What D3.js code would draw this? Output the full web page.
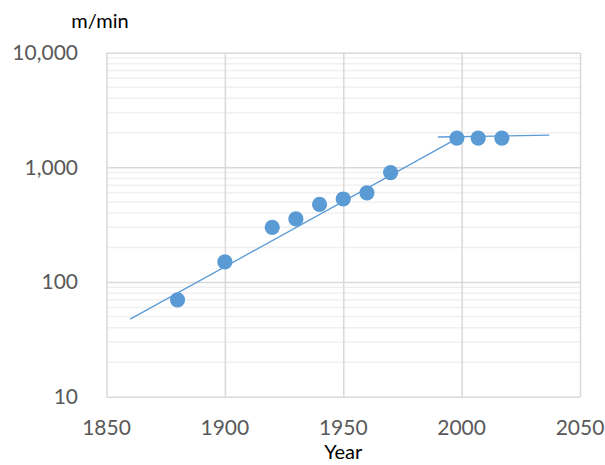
<!DOCTYPE html>
<html>
<head>
<meta charset="utf-8">
<script src="https://cdn.jsdelivr.net/npm/d3@7"></script>
<style>
  html, body { margin: 0; padding: 0; background: #fff; }
  svg text { font-family: Lato, "Open Sans", sans-serif; }
</style>
</head>
<body>
<div id="chart"></div>
<script>
const years = [1880, 1900, 1920, 1930, 1940, 1950, 1960, 1970, 1998, 2007, 2017];
const speeds = [70, 150, 300, 355, 475, 530, 600, 900, 1800, 1800, 1800];

const trendYears = [1860, 1998];
const trendSpeeds = [47.5, 1780];
const plateauYears = [1990, 2037];
const plateauSpeeds = [1840, 1910];

const xTicks = [1850, 1900, 1950, 2000, 2050];
const yTicks = [10, 100, 1000, 10000];

const width = 605;
const height = 465;
const plotLeft = 106.5;
const plotRight = 580;
const plotTop = 52.7;
const plotBottom = 396.7;

const x = d3.scaleLinear().domain([1850, 2050]).range([plotLeft, plotRight]);
const y = d3.scaleLog().domain([10, 10000]).range([plotBottom, plotTop]);

const svg = d3
  .select("#chart")
  .append("svg")
  .attr("width", width)
  .attr("height", height);

// minor grid lines (2..9 of each decade)
const minor = [];
yTicks.slice(0, -1).forEach((d) => {
  for (let k = 2; k < 10; k++) minor.push(d * k);
});

svg
  .append("g")
  .selectAll("line")
  .data(minor)
  .enter()
  .append("line")
  .attr("x1", plotLeft)
  .attr("x2", plotRight)
  .attr("y1", (d) => y(d))
  .attr("y2", (d) => y(d))
  .attr("stroke", "#f0f0f0")
  .attr("stroke-width", 1.5);

// major grid lines
svg
  .append("g")
  .attr("transform", `translate(${plotLeft},0)`)
  .call(d3.axisLeft(y).tickValues(yTicks).tickSize(-(plotRight - plotLeft)).tickFormat(""))
  .call((g) => g.select(".domain").remove())
  .call((g) => g.selectAll("line").attr("stroke", "#d9d9d9").attr("stroke-width", 1.5));

svg
  .append("g")
  .attr("transform", `translate(0,${plotBottom})`)
  .call(d3.axisBottom(x).tickValues(xTicks).tickSize(-(plotBottom - plotTop)).tickFormat(""))
  .call((g) => g.select(".domain").remove())
  .call((g) => g.selectAll("line").attr("stroke", "#d9d9d9").attr("stroke-width", 1.5));

// tick labels
svg
  .append("g")
  .selectAll("text")
  .data(yTicks)
  .enter()
  .append("text")
  .attr("x", 78)
  .attr("y", (d) => y(d))
  .attr("dy", "0.35em")
  .attr("text-anchor", "end")
  .attr("fill", "#595959")
  .style("font-size", "21px")
  .text((d) => d3.format(",")(d));

svg
  .append("g")
  .selectAll("text")
  .data(xTicks)
  .enter()
  .append("text")
  .attr("x", (d) => x(d))
  .attr("y", 428)
  .attr("dy", "0.35em")
  .attr("text-anchor", "middle")
  .attr("fill", "#595959")
  .style("font-size", "21px")
  .text((d) => d);

// axis titles
svg
  .append("text")
  .attr("x", x(1950))
  .attr("y", 459)
  .attr("text-anchor", "middle")
  .attr("fill", "#000")
  .style("font-size", "20px")
  .text("Year");

svg
  .append("text")
  .attr("x", 100)
  .attr("y", 28)
  .attr("text-anchor", "middle")
  .attr("fill", "#000")
  .style("font-size", "20px")
  .text("m/min");

// trend lines
const line = d3
  .line()
  .x((d) => x(d[0]))
  .y((d) => y(d[1]));

[
  d3.zip(trendYears, trendSpeeds),
  d3.zip(plateauYears, plateauSpeeds),
].forEach((pts) => {
  svg
    .append("path")
    .attr("d", line(pts))
    .attr("fill", "none")
    .attr("stroke", "#5b9bd5")
    .attr("stroke-width", 1.3);
});

// points
svg
  .append("g")
  .selectAll("circle")
  .data(d3.zip(years, speeds))
  .enter()
  .append("circle")
  .attr("cx", (d) => x(d[0]))
  .attr("cy", (d) => y(d[1]))
  .attr("r", 7.6)
  .attr("fill", "#5b9bd5");
</script>
</body>
</html>
